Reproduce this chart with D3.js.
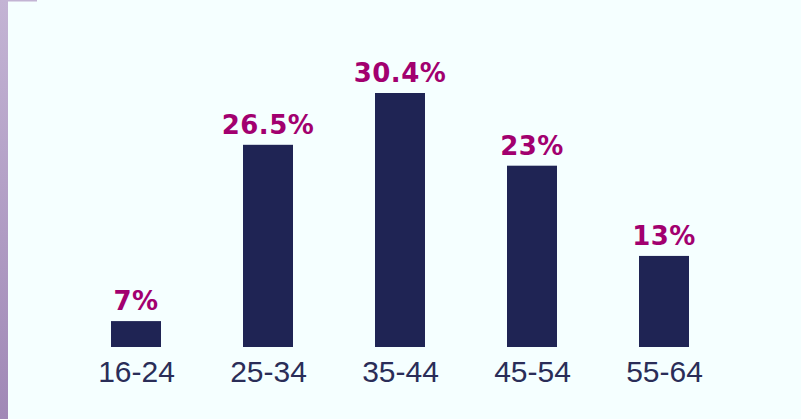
<!DOCTYPE html>
<html>
<head>
<meta charset="utf-8">
<script src="https://cdn.jsdelivr.net/npm/d3@7"></script>
<style>
  html, body { margin: 0; padding: 0; background: #ffffff; }
  svg { display: block; }
</style>
</head>
<body>
<svg id="chart" width="809" height="419"></svg>
<script>
// age groups and the share shown above each bar
var ageGroups = ["16-24", "25-34", "35-44", "45-54", "55-64"];
var shares = [7, 26.5, 30.4, 23, 13];
// bar lengths as drawn in the source (same % units)
var barLengths = [3.1, 24.2, 30.4, 21.7, 10.9];

var svg = d3.select("#chart"),
    width = 809,
    height = 419,
    panelRight = 801,
    baseline = 347,
    barWidth = 50;

// panel background
svg.append("rect")
    .attr("x", 0).attr("y", 0)
    .attr("width", panelRight).attr("height", height)
    .attr("fill", "#f5ffff");

// purple accent strip down the left side
var grad = svg.append("defs").append("linearGradient")
    .attr("id", "strip")
    .attr("x1", 0).attr("y1", 0).attr("x2", 0).attr("y2", 1);
grad.append("stop").attr("offset", "0%").attr("stop-color", "#c3b4d4");
grad.append("stop").attr("offset", "100%").attr("stop-color", "#a088b6");

svg.append("rect")
    .attr("x", 0).attr("y", 0)
    .attr("width", 8).attr("height", height)
    .attr("fill", "url(#strip)");
svg.append("rect")
    .attr("x", 8).attr("y", 0)
    .attr("width", 29).attr("height", 1.5)
    .attr("fill", "#c3b4d4");

var x = d3.scalePoint()
    .domain(ageGroups)
    .range([70, 730])
    .padding(0.5);

var y = d3.scaleLinear()
    .domain([0, d3.max(barLengths)])
    .range([baseline, 93]);

var rows = ageGroups.map(function(g, i) {
  return {group: g, share: shares[i], len: barLengths[i]};
});

var bar = svg.selectAll("g.bar")
  .data(rows)
  .enter().append("g")
    .attr("class", "bar");

bar.append("rect")
    .attr("x", function(d) { return x(d.group) - barWidth / 2; })
    .attr("y", function(d) { return y(d.len); })
    .attr("width", barWidth)
    .attr("height", function(d) { return baseline - y(d.len); })
    .attr("fill", "#1f2454");

bar.append("text")
    .attr("x", function(d) { return x(d.group); })
    .attr("y", function(d) { return y(d.len) - 11; })
    .attr("text-anchor", "middle")
    .attr("font-family", "DejaVu Sans, sans-serif")
    .attr("font-weight", "bold")
    .attr("font-size", 26)
    .attr("letter-spacing", 0.5)
    .attr("fill", "#a2006f")
    .text(function(d) { return d.share + "%"; });

// category labels under the bars
var axis = d3.axisBottom(x).tickSize(0).tickPadding(0);
var gx = svg.append("g")
    .attr("transform", "translate(0," + baseline + ")")
    .call(axis);
gx.select(".domain").remove();
gx.selectAll("text")
    .attr("dy", null)
    .attr("y", 35)
    .attr("font-family", "Liberation Sans, Arial, sans-serif")
    .attr("font-size", 30)
    .attr("fill", "#2a2d58");
</script>
</body>
</html>
